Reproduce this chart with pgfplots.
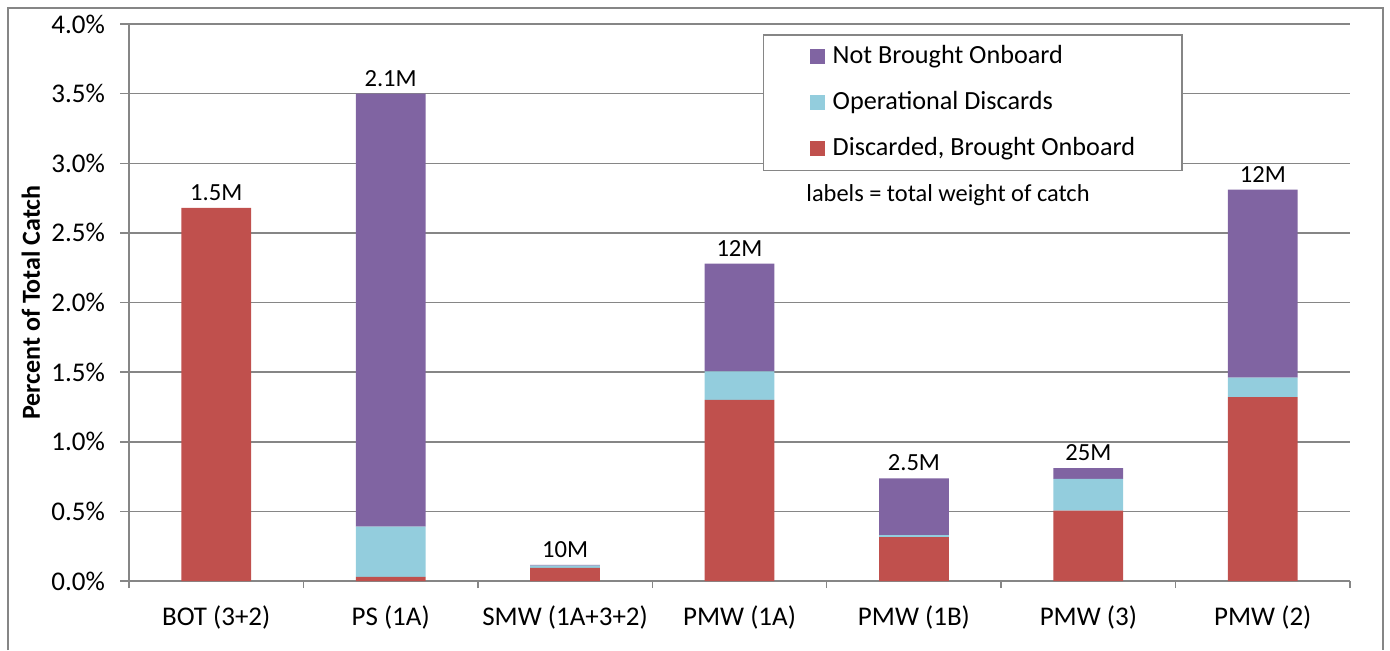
\documentclass[border=0pt]{standalone}
\usepackage{pgfplots}
\pgfplotsset{compat=1.18}
\usepackage{fontspec}
\setmainfont{Carlito}
\definecolor{cred}{HTML}{C0504D}
\definecolor{cblue}{HTML}{93CDDD}
\definecolor{cpurple}{HTML}{8064A2}
\definecolor{cgrid}{HTML}{868686}
\begin{document}
\fontsize{13}{15.6}\selectfont
\begin{tikzpicture}[x=1pt,y=1pt]
\useasboundingbox (0,0) rectangle (695,325);
\draw[cgrid, line width=0.6pt] (4,0) -- (4,321) -- (691.5,321) -- (691.5,0);
\pgfplotsset{common/.style={
  at={(64.5pt,34.5pt)}, anchor=south west,
  scale only axis, width=610.5pt, height=278.5pt,
  xmin=-0.5, xmax=6.5, ymin=0, ymax=4}}
\begin{axis}[common,
  ybar stacked, bar width=0.4,
  axis x line*=bottom, axis y line*=left,
  axis line style={-, draw=cgrid, line width=0.75pt},
  every outer x axis line/.append style={-},
  every outer y axis line/.append style={-},
  tick align=outside,
  xtick={0,...,6},
  xticklabels={BOT (3+2), PS (1A), SMW (1A+3+2), PMW (1A), PMW (1B), PMW (3), PMW (2)},
  xticklabel style={font=\fontsize{13.5}{16}\selectfont, yshift=-3.5pt},
  major x tick style={draw=none},
  minor xtick={-0.5,0.5,...,6.5},
  minor tick length=3.5pt,
  major tick length=4.5pt,
  tick style={draw=cgrid, line width=0.75pt},
  ytick={0,0.5,...,4},
  /pgf/number format/assume math mode=true,
  yticklabel={\pgfmathprintnumber[fixed,fixed zerofill,precision=1]{\tick}\%},
  yticklabel style={font=\fontsize{13.5}{16}\selectfont, xshift=-3pt},
  ymajorgrids,
  major grid style={draw=cgrid, line width=0.75pt},
  ylabel={\textbf{Percent of Total Catch}},
  ylabel style={at={(axis description cs:-0.0803,0.5)}, anchor=center, font=\fontsize{13}{15.6}\selectfont},
  reverse legend,
  legend cell align=left,
  legend style={at={(axis description cs:0.5192,0.982)}, anchor=north west,
    draw=cgrid, line width=0.75pt, inner xsep=21.5pt, inner ysep=3.2pt, row sep=8.1pt,
    font=\fontsize{13.1}{15.7}\selectfont,
    /tikz/every odd column/.append style={column sep=2pt}},
  legend image code/.code={\path (0pt,0pt); \fill[#1] (1.5pt,-3.75pt) rectangle (9pt,3.75pt);},
]
\addplot[fill=cred, draw=none] coordinates {(0,2.68) (1,0.03) (2,0.095) (3,1.30) (4,0.316) (5,0.505) (6,1.32)};
\addplot[fill=cblue, draw=none] coordinates {(0,0) (1,0.36) (2,0.015) (3,0.205) (4,0.014) (5,0.229) (6,0.14)};
\addplot[fill=cpurple, draw=none] coordinates {(0,0) (1,3.11) (2,0.005) (3,0.775) (4,0.407) (5,0.076) (6,1.35)};
\legend{Discarded{,} Brought Onboard, Operational Discards, Not Brought Onboard}
\node[anchor=west, inner sep=0pt, font=\fontsize{12.2}{14.6}\selectfont] at (axis description cs:0.5545,0.693) {labels = total weight of catch};
\end{axis}
\begin{axis}[common, hide axis]
\addplot[draw=none, nodes near coords, point meta=explicit symbolic,
  every node near coord/.append style={anchor=south, text=black, inner sep=3.5pt, font=\fontsize{12.3}{14.8}\selectfont}]
  coordinates {(0,2.68)[1.5M] (1,3.50)[2.1M] (2,0.115)[10M] (3,2.28)[12M] (4,0.737)[2.5M] (5,0.81)[25M] (6,2.81)[12M]};
\end{axis}
\end{tikzpicture}
\end{document}
